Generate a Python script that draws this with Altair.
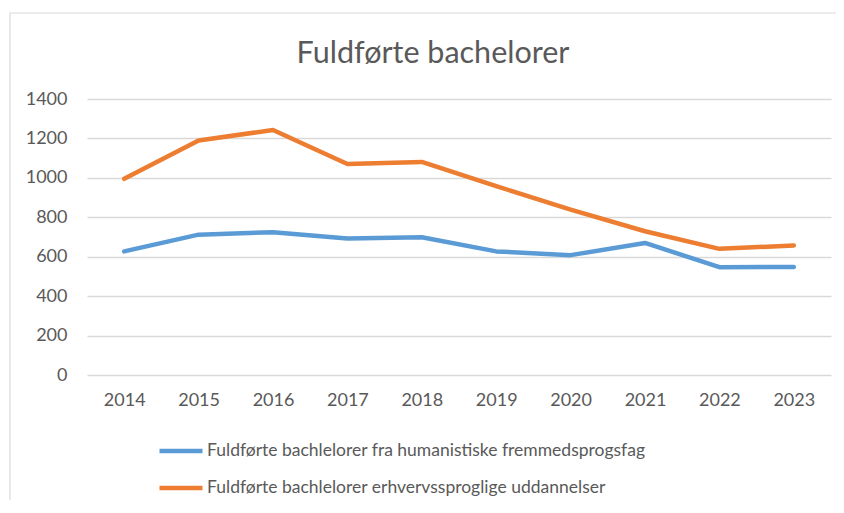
import altair as alt
import pandas as pd

years = ["2014", "2015", "2016", "2017", "2018", "2019", "2020", "2021", "2022", "2023"]
humanistiske = [627, 712, 724, 692, 699, 627, 608, 670, 547, 548]
erhverv = [995, 1189, 1243, 1070, 1081, 958, 839, 729, 640, 657]
series_names = [
    "Fuldførte bachlelorer fra humanistiske fremmedsprogsfag",
    "Fuldførte bachlelorer erhvervssproglige uddannelser",
]
colors = ["#5B9BD5", "#ED7D31"]
title = "Fuldførte bachelorer"

rows = []
for y, a, b in zip(years, humanistiske, erhverv):
    rows.append({"year": y, "series": series_names[0], "value": a})
    rows.append({"year": y, "series": series_names[1], "value": b})
df = pd.DataFrame(rows)

FONT = "Lato"
TXT = "#595959"
W, H = 744, 276

one = pd.DataFrame({"a": [0]})

border = alt.Chart(one).mark_rect(
    fill=None, stroke="#d9d9d9", strokeWidth=1.2
).encode(
    x=alt.value(-77), x2=alt.value(W + 40), y=alt.value(-86), y2=alt.value(H + 160)
)

title_mark = alt.Chart(one).mark_text(
    text=title, font=FONT, fontSize=30.5, color=TXT, align="center", baseline="alphabetic"
).encode(x=alt.value(W / 2 - 26), y=alt.value(-36))

lines = alt.Chart(df).mark_line(strokeWidth=4.5, strokeCap="round", strokeJoin="round").encode(
    x=alt.X("year:N", sort=years, scale=alt.Scale(paddingInner=0, paddingOuter=0.5),
            axis=alt.Axis(title=None, labelAngle=0, ticks=False, domain=False, grid=False,
                          labelPadding=16, labelFontSize=18, labelColor=TXT, labelFont=FONT)),
    y=alt.Y("value:Q", scale=alt.Scale(domain=[0, 1400], nice=False),
            axis=alt.Axis(title=None, values=[0, 200, 400, 600, 800, 1000, 1200, 1400],
                          format="d", ticks=False, domain=False, gridColor="#d9d9d9", gridWidth=1.3,
                          labelPadding=20, labelFontSize=18, labelColor=TXT, labelFont=FONT)),
    color=alt.Color("series:N", sort=series_names,
                    scale=alt.Scale(domain=series_names, range=colors),
                    legend=alt.Legend(title=None, orient="none", legendX=70, legendY=328,
                                      direction="vertical", symbolType="stroke",
                                      symbolSize=1850, symbolStrokeWidth=4.5,
                                      labelFontSize=17.5, labelColor=TXT, labelFont=FONT,
                                      labelOffset=2, rowPadding=4, labelLimit=600)),
)

chart = alt.layer(border, title_mark, lines).properties(
    width=W, height=H,
    padding={"left": 79, "top": 91, "right": 5, "bottom": 125},
    autosize=alt.AutoSizeParams(type="none"),
).configure_view(stroke=None)

chart.save("out.html", embed_options={"renderer": "svg", "actions": False})
